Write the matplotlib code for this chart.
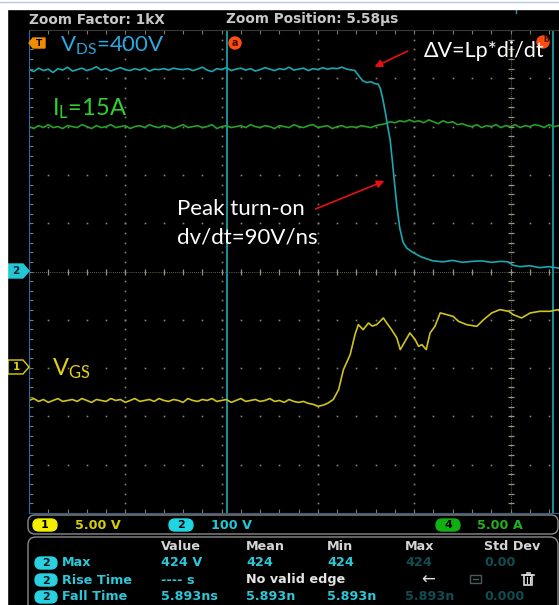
import numpy as np
import matplotlib
matplotlib.use('Agg')
import matplotlib.pyplot as plt
from matplotlib.patches import FancyBboxPatch, Rectangle, Circle, Polygon, FancyArrowPatch

plt.rcParams['mathtext.default'] = 'regular'

# ---------------- data ----------------
# time in ns (20 ns/div), VDS in V (CH2, 100 V/div)
vds_t = list(range(0, 67)) + [67.7, 68.5, 69.3, 70.2, 71.0, 71.8, 72.5, 73.0, 73.5, 74.0,
                              74.5, 75.0, 75.5, 76.0, 76.4, 77.0, 77.7, 78.5, 79.8, 81.5,
                              83.9, 86, 88, 90, 92, 94, 96, 98, 99.5, 100.5,
                              102, 104, 106, 108, 110]
vds_v = [418, 414, 421, 416, 419, 412, 420, 417, 423, 415, 418, 421, 416, 419, 424, 417,
         420, 415, 419, 422, 418, 416, 420, 417, 421, 415, 419, 418, 420, 417, 421, 419,
         418, 420, 416, 419, 423, 417, 414, 420, 418, 422, 416, 419, 421, 417, 420, 415,
         418, 422, 419, 416, 420, 418, 423, 417, 419, 421, 416, 420, 418, 422, 419, 421,
         420, 423, 419,
         416, 405, 395, 391, 393, 389, 388, 378, 356, 330,
         300, 273, 225, 175, 135, 90, 60, 48, 39, 30,
         22, 20, 23, 19, 21, 22, 19, 21, 20, 13,
         10, 12, 8, 10, 7]

# IL in A (CH4, 5 A/div), sampled every 1 ns
il_t = list(range(0, 111))
il_a = [15.0, 14.8, 15.1, 14.9, 15.2, 14.9, 15.0, 14.8, 15.1, 15.0,
        14.9, 15.2, 15.0, 14.8, 15.1, 14.9, 15.0, 15.2, 14.9, 15.0,
        15.1, 14.8, 15.0, 15.1, 14.9, 15.2, 15.0, 14.9, 15.1, 15.0,
        14.8, 15.0, 15.2, 14.9, 15.0, 15.1, 14.9, 15.0, 15.2, 14.8,
        15.0, 15.1, 14.9, 15.0, 15.1, 14.9, 15.2, 15.0, 14.9, 15.1,
        15.0, 14.8, 15.1, 15.0, 14.9, 15.2, 15.0, 14.9, 15.1, 15.2,
        14.9, 15.0, 15.1, 14.8, 15.0, 15.1, 14.9, 15.0, 14.9, 15.1,
        15.0, 14.9, 15.1, 15.2, 15.3, 15.5, 15.4, 15.6, 15.5, 15.7,
        15.5, 15.6, 15.4, 15.7, 15.5, 15.3, 15.6, 15.4, 15.5, 15.2,
        15.3, 15.1, 15.0, 15.2, 14.9, 15.1, 15.0, 15.2, 14.9, 15.1,
        15.0, 15.2, 14.9, 15.1, 15.0, 15.2, 15.1, 14.9, 15.2, 15.0,
        15.1]

# VGS in V (CH1, 5 V/div)
vgs_t = list(range(0, 63)) + [63.2, 64.3, 65.3, 66.7, 67.7, 68.4, 69.4, 70.5, 71.3, 72.2,
                              73.6, 74.3, 75.3, 76.4, 77.1, 78.1, 79.1, 80.2, 80.9, 81.6,
                              82.5, 83.3, 84.3, 85.4, 86.8, 88.1, 89.2, 90.9, 93.0, 94.4,
                              96.1, 97.8, 99.6, 100.6, 102.3, 104.1, 106.1, 108.2, 109.9, 110.1]
vgs_v = [-3.5, -3.3, -3.6, -3.4, -3.7, -3.5, -3.3, -3.6, -3.5, -3.4,
         -3.6, -3.3, -3.5, -3.7, -3.4, -3.5, -3.6, -3.3, -3.5, -3.4,
         -3.7, -3.5, -3.3, -3.6, -3.5, -3.4, -3.6, -3.3, -3.5, -3.6,
         -3.4, -3.5, -3.7, -3.3, -3.5, -3.6, -3.4, -3.5, -3.3, -3.6,
         -3.5, -3.4, -3.7, -3.5, -3.3, -3.6, -3.5, -3.4, -3.6, -3.5,
         -3.3, -3.6, -3.5, -3.7, -3.4, -3.6, -3.7, -3.6, -3.8, -3.9,
         -4.1, -4.0, -3.8,
         -3.4, -2.38, -0.31, 1.24, 3.31, 4.35, 3.83, 4.52, 4.2, 4.35,
         5.04, 4.52, 3.83, 2.97, 1.76, 2.62, 3.49, 2.8, 2.1, 2.28,
         1.76, 3.49, 4.17, 5.56, 5.38, 5.2, 4.69, 4.35, 4.17, 4.86,
         5.56, 5.9, 5.73, 5.38, 5.04, 5.56, 5.73, 5.73, 5.9, 5.8]

cursor_t = [41.1, 108.8]

ch_scale = {'ch1': 5.0, 'ch2': 100.0, 'ch4': 5.0}
ch_labels = ['5.00 V', '100 V', '5.00 A']
meas_header = ['Value', 'Mean', 'Min', 'Max', 'Std Dev']
meas_rows = ['Max', 'Rise Time', 'Fall Time']
meas_vals = [['424 V', '424', '424', '424', '0.00'],
             ['---- s', 'No valid edge', '', '', ''],
             ['5.893ns', '5.893n', '5.893n', '5.893n', '0.000']]

# ---------------- layout ----------------
W, H, DPI = 559, 605, 100
fig = plt.figure(figsize=(W / DPI, H / DPI), dpi=DPI, facecolor='black')

GL, GT, GR, GB = 29, 30, 559, 513
PXDIV_X = 96.3
NS_DIV = 20
xmax = (GR - GL) / PXDIV_X * NS_DIV

ax = fig.add_axes([GL / W, 1 - GB / H, (GR - GL) / W, (GB - GT) / H])
ax.set_facecolor('black')
ax.set_xlim(0, xmax)
ax.set_ylim(-5, 5)

grid_c = '#858270'
# dotted graticule
for xv in [20, 40, 60, 80]:
    ys = np.arange(-5, 5.001, 0.2)
    ax.plot([xv] * len(ys), ys, ls='none', marker='s', ms=1.2, mew=0, color=grid_c)
for yv in [-4, -3, -2, -1, 1, 2, 3, 4]:
    xs = np.arange(0, xmax, 4)
    ax.plot(xs, [yv] * len(xs), ls='none', marker='s', ms=1.2, mew=0, color=grid_c)
# center lines with ticks
ax.axvline(100, color=grid_c, lw=0.6, ls=(0, (1, 1.5)))
ys = np.arange(-5, 5.001, 0.2)
ax.plot([100] * len(ys), ys, ls='none', marker='_', ms=4.5, mew=0.9, color='#9a9478')
ax.axhline(0, color=grid_c, lw=0.6, ls=(0, (1, 1.5)))
xs = np.arange(0, xmax, 4)
ax.plot(xs, [0] * len(xs), ls='none', marker='|', ms=4.5, mew=0.9, color='#9a9478')

ax.set_xticks(np.arange(0, xmax, 4))
ax.set_yticks(np.arange(-5, 5.001, 0.2))
ax.tick_params(direction='in', length=3, width=0.8, color='#7d7a68', top=True, bottom=True,
               left=True, right=False, labelbottom=False, labelleft=False)
ax.spines['left'].set_color('#2f66a8')
ax.spines['bottom'].set_color('#3c5c80')
ax.spines['top'].set_color('#3a3a3a')
ax.spines['right'].set_visible(False)

# cursors
for ct in cursor_t:
    ax.axvline(ct, color='#1c9ea8', lw=1.3)

# traces
ch1_pos = -1.97
ax.plot(il_t, np.array(il_a) / ch_scale['ch4'], color='#27a027', lw=1.2)
ax.plot(vgs_t, np.array(vgs_v) / ch_scale['ch1'] + ch1_pos, color='#cfc41e', lw=1.2)
ax.plot(vds_t, np.array(vds_v) / ch_scale['ch2'], color='#1ba8b2', lw=1.2)

# ---------------- overlay (pixel coordinates) ----------------
ov = fig.add_axes([0, 0, 1, 1])
ov.set_xlim(0, W)
ov.set_ylim(H, 0)
ov.axis('off')
ov.patch.set_alpha(0)

ov.add_patch(Rectangle((0, 0), 7, H, color='white', zorder=5))
ov.add_patch(Rectangle((0, 0), W, 9, color='white', zorder=5))
ov.plot([0, W], [1.5, 1.5], color='#b8c8e0', lw=1, zorder=6)
ov.plot([516, 516], [9, 13], color='#1c9ea8', lw=1)

hdr = dict(family='DejaVu Sans', weight='bold', size=9.8, color='#c8c8c8', va='center')
ov.text(29, 19.5, 'Zoom Factor: 1kX', **hdr)
ov.text(226, 19.5, 'Zoom Position: 5.58\u00b5s', **hdr)

# left markers
ov.add_patch(Polygon([(29, 43), (33, 38), (45, 38), (45, 48), (33, 48)], closed=True,
                     color='#f08c00'))
ov.text(39, 43.5, 'T', color='black', fontsize=6.5, weight='bold', ha='center', va='center')
ov.add_patch(Polygon([(8, 264), (23, 264), (29, 271), (23, 278), (8, 278)], closed=True,
                     color='#22c6d4'))
ov.text(16, 271.5, '2', color='#102030', fontsize=7.5, weight='bold', ha='center', va='center')
ov.add_patch(Polygon([(8, 360), (23, 360), (29, 367), (23, 374), (8, 374)], closed=True,
                     facecolor='black', edgecolor='#e0d000', lw=1))
ov.text(16, 367.5, '1', color='#e0d000', fontsize=7.5, weight='bold', ha='center', va='center')

# cursor bubbles
ov.add_patch(Circle((235, 43), 6, color='#ff4d10'))
ov.text(235, 43.5, 'a', color='#401000', fontsize=7, weight='bold', ha='center', va='center')
ov.add_patch(Circle((543, 42), 6, color='#ff4d10'))
ov.text(546, 39, 'b', color='#401000', fontsize=5.5, weight='bold', ha='center', va='center')

# annotations
af = ['Lato', 'DejaVu Sans']
ov.text(60, 52, r'V$_{DS}$=400V', family=af, size=16, color='#29a9e1')
ov.text(52, 115, r'I$_{L}$=15A', family=af, size=17, color='#2fd12f')
ov.text(52, 375, r'V$_{GS}$', family=af, size=17, color='#e0d21a')
ov.text(424, 57, '\u0394V=Lp*di/dt', family=af, size=15.5, color='white')
ov.text(177, 215, 'Peak turn-on', family=af, size=16, color='white')
ov.text(177, 243, 'dv/dt=90V/ns', family=af, size=16, color='white')

for p0, p1 in [((410, 50), (372, 68)), ((313, 210), (387, 180))]:
    ov.add_patch(FancyArrowPatch(p0, p1, arrowstyle='-|>', mutation_scale=11,
                                 color='#e81010', lw=1.2))

# channel bar
ov.add_patch(FancyBboxPatch((28, 515), 530, 19, boxstyle='round,pad=0,rounding_size=7',
                            facecolor='black', edgecolor='#8a8a8a', lw=1))
pill = 'round,pad=0,rounding_size=6'
bar_y = 525
for (x0, col, num, tcol), lab, tx in zip(
        [(33, '#f2f000', '1', '#d8d000'), (169, '#20d4e4', '2', '#20c8d8'),
         (436, '#10b010', '4', '#20b020')], ch_labels, [75, 211, 477]):
    ov.add_patch(FancyBboxPatch((x0, bar_y - 6), 24, 12, boxstyle=pill, color=col))
    ov.text(x0 + 12, bar_y + 0.5, num, color='black', fontsize=8, weight='bold',
            ha='center', va='center')
    ov.text(tx, bar_y + 0.5, lab, color=tcol, family='DejaVu Sans', weight='bold',
            fontsize=9.2, va='center')

# measurement panel
ov.add_patch(FancyBboxPatch((28, 537), 530, 90, boxstyle='round,pad=0,rounding_size=8',
                            facecolor='black', edgecolor='#8a8a8a', lw=1))
col_x = [161, 246, 327, 405, 484]
mf = dict(family='DejaVu Sans', weight='bold', fontsize=9.2, va='center')
for cx, h in zip(col_x, meas_header):
    ov.text(cx, 546, h, color='#d4d4d4', **mf)
row_y = [563, 580, 597]
teal = '#2cc8d8'
dim = '#0f4d55'
for ry, rn, vals in zip(row_y, meas_rows, meas_vals):
    ov.add_patch(FancyBboxPatch((35, ry - 6), 22, 12, boxstyle=pill, color='#28d0e0'))
    ov.text(46, ry + 0.5, '2', color='#0a1a20', fontsize=8, weight='bold', ha='center', va='center')
    ov.text(62, ry, rn, color=teal, **mf)
    for i, (cx, v) in enumerate(zip(col_x, vals)):
        if not v:
            continue
        c = teal
        if i >= 3:
            c = dim
        if v == 'No valid edge':
            c = '#e4e4e4'
        ov.text(cx, ry, v, color=c, **mf)

# icons on the rise-time row
ov.text(421, 580, '\u2190', color='#e0e0e0', family='DejaVu Sans', fontsize=12, va='center')
ov.add_patch(Rectangle((470, 575), 11, 8, facecolor='none', edgecolor='#4a5a5a', lw=1))
ov.plot([473, 478], [579, 579], color='#4a5a5a', lw=1)
ov.add_patch(Rectangle((524, 575), 8, 10, facecolor='none', edgecolor='#dcdcdc', lw=1.2))
ov.plot([522, 534], [574.5, 574.5], color='#dcdcdc', lw=1.2)
ov.plot([526.5, 529.5], [572.5, 572.5], color='#dcdcdc', lw=1.2)
ov.plot([527, 527], [577, 583], color='#dcdcdc', lw=0.8)
ov.plot([529.5, 529.5], [577, 583], color='#dcdcdc', lw=0.8)

fig.savefig('out.png', dpi=DPI, facecolor='black')
